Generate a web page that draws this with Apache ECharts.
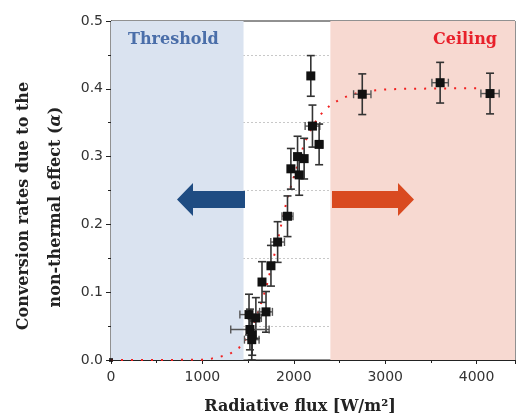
<!DOCTYPE html>
<html><head><meta charset="utf-8">
<script src="https://cdn.jsdelivr.net/npm/echarts@6/dist/echarts.min.js"></script>
<style>html,body{margin:0;padding:0;background:#fff}#c{width:517px;height:416px}</style>
</head><body><div id="c"></div>
<script>
// Measured data points
const fluxX = [2186, 2204, 2277, 1968, 2041, 2113, 2059, 1931, 1823, 1750, 1652, 1696, 1510, 1585, 1520, 1545, 1540, 2749, 3601, 4147];
const alphaY = [0.419, 0.345, 0.318, 0.282, 0.300, 0.297, 0.273, 0.212, 0.174, 0.139, 0.115, 0.071, 0.067, 0.062, 0.045, 0.037, 0.030, 0.392, 0.409, 0.393];
const xErr = [0, 80, 40, 0, 0, 0, 0, 60, 75, 0, 0, 70, 100, 60, 210, 0, 80, 95, 90, 100];
const yErr = [0.030, 0.031, 0.030, 0.030, 0.030, 0.030, 0.030, 0.030, 0.030, 0.030, 0.030, 0.030, 0.030, 0.030, 0.030, 0.030, 0.030, 0.030, 0.030, 0.030];
// Fitted sigmoid
const fitX = [0, 500, 1000, 1100, 1200, 1300, 1400, 1500, 1550, 1600, 1650, 1700, 1750, 1800, 1850, 1900, 1950, 2000, 2050, 2100, 2150, 2200, 2250, 2300, 2400, 2500, 2600, 2700, 2800, 2900, 3000, 3200, 4080];
const fitY = [0, 0, 0.0005, 0.002, 0.005, 0.009, 0.018, 0.035, 0.048, 0.067, 0.087, 0.108, 0.135, 0.162, 0.192, 0.222, 0.248, 0.270, 0.291, 0.313, 0.330, 0.343, 0.354, 0.363, 0.376, 0.384, 0.390, 0.394, 0.396, 0.398, 0.399, 0.400, 0.401];
// Regions
const thresholdRange = [0, 1450];
const ceilingRange = [2400, 4420];
const xTicks = [0, 1000, 2000, 3000, 4000];
const yTicks = [0.0, 0.1, 0.2, 0.3, 0.4, 0.5];

const chart = echarts.init(document.getElementById('c'), null, {renderer: 'canvas'});
const pts = fluxX.map((x, i) => [x, alphaY[i], xErr[i], yErr[i]]);
const serif = '"DejaVu Serif", serif';
const sans = '"DejaVu Sans", sans-serif';

const option = {
  animation: false,
  grid: {left: 111, right: 2, top: 21, bottom: 56, show: true, borderColor: '#222', borderWidth: 1, backgroundColor: 'transparent'},
  xAxis: {
    type: 'value', min: 0, max: 4420, interval: 1000,
    axisLine: {lineStyle: {color: '#222', width: 1}},
    axisTick: {show: true, length: 4, lineStyle: {color: '#222'}},
    minorTick: {show: true, splitNumber: 2, length: 3, lineStyle: {color: '#222'}},
    splitLine: {show: false},
    axisLabel: {showMaxLabel: false, margin: 10, fontFamily: sans, fontSize: 14, color: '#333',
      formatter: v => xTicks.indexOf(v) >= 0 ? String(v) : ''}
  },
  yAxis: {
    type: 'value', min: 0, max: 0.5, interval: 0.1,
    axisLine: {show: true, lineStyle: {color: '#222', width: 1}},
    axisTick: {show: true, length: 5, lineStyle: {color: '#222'}},
    minorTick: {show: true, splitNumber: 2, length: 3, lineStyle: {color: '#222'}},
    splitLine: {show: false},
    minorSplitLine: {show: true, lineStyle: {color: '#c8c8c8', type: [2, 2], width: 1}},
    axisLabel: {margin: 8, fontFamily: sans, fontSize: 14, color: '#333',
      formatter: v => { const t = yTicks.find(k => Math.abs(k - v) < 1e-9); return t === undefined ? '' : t.toFixed(1); }}
  },
  series: [
    {
      type: 'line', data: fitX.map((x, i) => [x, fitY[i]]), showSymbol: false, z: 3,
      lineStyle: {color: '#f02020', width: 2, type: [2, 8]},
      markArea: {
        silent: true,
        data: [
          [{xAxis: thresholdRange[0], itemStyle: {color: '#dae3f0'}}, {xAxis: thresholdRange[1]}],
          [{xAxis: ceilingRange[0], itemStyle: {color: '#f7d9d1'}}, {xAxis: ceilingRange[1]}]
        ]
      }
    },
    {
      type: 'custom', z: 4,
      data: pts,
      renderItem: function (params, api) {
        const x = api.value(0), y = api.value(1), ex = api.value(2), ey = api.value(3);
        const c = api.coord([x, y]);
        const top = api.coord([x, y + ey]), bot = api.coord([x, y - ey]);
        const cap = 4;
        const ch = [
          {type: 'line', shape: {x1: c[0], y1: top[1], x2: c[0], y2: bot[1]}, style: {stroke: '#333', lineWidth: 1.6}},
          {type: 'line', shape: {x1: c[0] - cap, y1: top[1], x2: c[0] + cap, y2: top[1]}, style: {stroke: '#333', lineWidth: 1.6}},
          {type: 'line', shape: {x1: c[0] - cap, y1: bot[1], x2: c[0] + cap, y2: bot[1]}, style: {stroke: '#333', lineWidth: 1.6}}
        ];
        if (ex > 0) {
          const l = api.coord([x - ex, y]), r = api.coord([x + ex, y]);
          ch.push({type: 'line', shape: {x1: l[0], y1: c[1], x2: r[0], y2: c[1]}, style: {stroke: '#555', lineWidth: 1.4}});
          ch.push({type: 'line', shape: {x1: l[0], y1: c[1] - cap, x2: l[0], y2: c[1] + cap}, style: {stroke: '#555', lineWidth: 1.4}});
          ch.push({type: 'line', shape: {x1: r[0], y1: c[1] - cap, x2: r[0], y2: c[1] + cap}, style: {stroke: '#555', lineWidth: 1.4}});
        }
        return {type: 'group', children: ch};
      }
    },
    {
      type: 'scatter', z: 5, data: pts.map(p => [p[0], p[1]]),
      symbol: 'rect', symbolSize: 9, itemStyle: {color: '#111', opacity: 1}
    },
    {
      type: 'scatter', z: 5, data: [[0, 0]], symbol: 'rect', symbolSize: 4, itemStyle: {color: '#111'}
    }
  ],
  graphic: [
    {type: 'polygon', z: 10, shape: {points: [[177, 199.5], [193, 183], [193, 191], [245, 191], [245, 208], [193, 208], [193, 216]]}, style: {fill: '#1f4c82'}},
    {type: 'polygon', z: 10, shape: {points: [[332, 191], [398, 191], [398, 183], [414, 199.5], [398, 216], [398, 208], [332, 208]]}, style: {fill: '#d94a20'}},
    {type: 'text', z: 10, x: 128, y: 40, style: {text: 'Threshold', font: 'bold 16px ' + serif, fill: '#4a6ea9', textAlign: 'left', textVerticalAlign: 'middle'}},
    {type: 'text', z: 10, x: 433, y: 40, style: {text: 'Ceiling', font: 'bold 16px ' + serif, fill: '#e8202a', textAlign: 'left', textVerticalAlign: 'middle'}},
    {type: 'text', z: 10, x: 300, y: 407, style: {text: 'Radiative flux [W/m²]', font: 'bold 16px ' + serif, fill: '#222', textAlign: 'center', textVerticalAlign: 'middle'}},
    {type: 'text', z: 10, x: 24, y: 206, rotation: Math.PI / 2, style: {text: 'Conversion rates due to the', font: 'bold 16px ' + serif, fill: '#222', textAlign: 'center', textVerticalAlign: 'middle'}},
    {type: 'text', z: 10, x: 56, y: 207, rotation: Math.PI / 2, style: {text: 'non-thermal effect ({a|α})', font: 'bold 16px ' + serif, fill: '#222', textAlign: 'center', textVerticalAlign: 'middle',
      rich: {a: {fontFamily: serif, fontSize: 16, fontWeight: 'bold', fontStyle: 'italic', fill: '#222'}}}}
  ]
};
chart.setOption(option);
</script></body></html>
